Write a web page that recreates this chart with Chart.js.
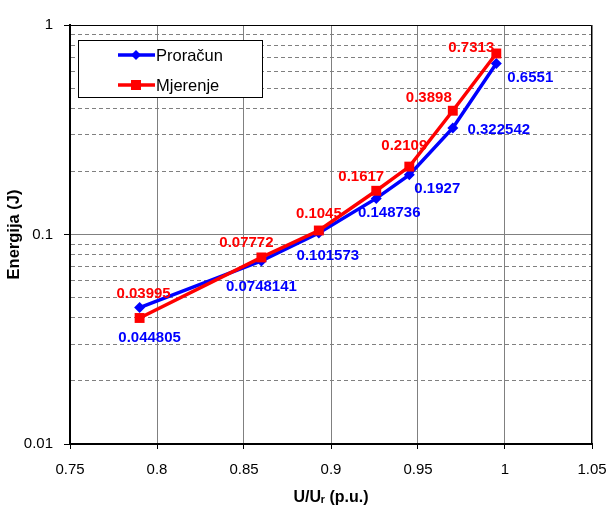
<!DOCTYPE html>
<html lang="hr">
<head>
<meta charset="UTF-8" />
<title>Energija</title>
<script src="https://cdn.jsdelivr.net/npm/chart.js"></script>
<style>
  body { margin: 0; background: #fff; }
  #wrap { width: 608px; height: 511px; position: relative; }
</style>
</head>
<body>
<div id="wrap"><canvas id="chart"></canvas></div>
<script>
// podaci
const napon = [0.79, 0.86, 0.893, 0.926, 0.945, 0.97, 0.995];
const proracun = [0.044805, 0.0748141, 0.101573, 0.148736, 0.1927, 0.322542, 0.6551];
const mjerenje = [0.03995, 0.07772, 0.1045, 0.1617, 0.2109, 0.3898, 0.7313];
const proracunTxt = ["0.044805", "0.0748141", "0.101573", "0.148736", "0.1927", "0.322542", "0.6551"];
const mjerenjeTxt = ["0.03995", "0.07772", "0.1045", "0.1617", "0.2109", "0.3898", "0.7313"];
const yMajor = [0.01, 0.1, 1];

// pomaci natpisa (px) od tocke
const pomakPro = [[10, 30], [0, 26], [9, 23], [13, 14], [28, 14], [46, 2], [34, 14]];
const pomakMj = [[4, -24], [-15, -15], [0, -17], [-15, -14], [-5, -21], [-24, -13], [-25, -6]];

const FONT = "'Liberation Sans', Arial, sans-serif";
const PLAVA = "#0000ff";
const CRVENA = "#ff0000";

function isMajor(v) {
  const l = Math.log10(v);
  return Math.abs(l - Math.round(l)) < 1e-9;
}

const natpisi = {
  id: "natpisi",
  afterDatasetsDraw(chart) {
    const ctx = chart.ctx;
    ctx.save();
    ctx.font = "bold 15px " + FONT;
    ctx.textAlign = "center";
    ctx.textBaseline = "middle";
    const sets = [
      { meta: chart.getDatasetMeta(0), txt: proracunTxt, pom: pomakPro, col: PLAVA },
      { meta: chart.getDatasetMeta(1), txt: mjerenjeTxt, pom: pomakMj, col: CRVENA },
    ];
    sets.forEach(s => {
      ctx.fillStyle = s.col;
      s.meta.data.forEach((pt, i) => {
        ctx.fillText(s.txt[i], pt.x + s.pom[i][0], pt.y + s.pom[i][1]);
      });
    });
    ctx.restore();
  },
  afterDraw(chart) {
    const ctx = chart.ctx;
    const a = chart.chartArea;
    ctx.save();
    // okvir
    ctx.strokeStyle = "#000";
    ctx.lineWidth = 1;
    ctx.beginPath();
    ctx.moveTo(a.left, a.top + 0.5);
    ctx.lineTo(a.right - 0.5, a.top + 0.5);
    ctx.lineTo(a.right - 0.5, a.bottom);
    ctx.stroke();

    // legenda
    const lx = a.left + 8, ly = a.top + 15, lw = 184, lh = 57;
    ctx.fillStyle = "#fff";
    ctx.fillRect(lx, ly, lw, lh);
    ctx.strokeRect(lx + 0.5, ly + 0.5, lw, lh);
    ctx.font = "16.5px " + FONT;
    ctx.textAlign = "left";
    ctx.textBaseline = "middle";
    const items = [
      { t: "Proračun", c: PLAVA, y: ly + 15, m: "romb" },
      { t: "Mjerenje", c: CRVENA, y: ly + 45, m: "kvad" },
    ];
    items.forEach(it => {
      ctx.strokeStyle = it.c;
      ctx.lineWidth = 3.5;
      ctx.beginPath();
      ctx.moveTo(lx + 40, it.y);
      ctx.lineTo(lx + 77, it.y);
      ctx.stroke();
      ctx.fillStyle = it.c;
      const cx = lx + 58;
      if (it.m === "romb") {
        ctx.beginPath();
        ctx.moveTo(cx, it.y - 5);
        ctx.lineTo(cx + 5, it.y);
        ctx.lineTo(cx, it.y + 5);
        ctx.lineTo(cx - 5, it.y);
        ctx.closePath();
        ctx.fill();
      } else {
        ctx.fillRect(cx - 5, it.y - 5, 10, 10);
      }
      ctx.fillStyle = "#000";
      ctx.fillText(it.t, lx + 78, it.y + 1);
    });
    ctx.restore();
  },
};

new Chart(document.getElementById("chart"), {
  type: "line",
  data: {
    datasets: [
      {
        label: "Proračun",
        data: napon.map((x, i) => ({ x: x, y: proracun[i] })),
        borderColor: PLAVA,
        backgroundColor: PLAVA,
        borderWidth: 3.5,
        pointStyle: "rectRot",
        pointRadius: 5.5,
        pointBorderWidth: 0,
        tension: 0,
        order: 1,
      },
      {
        label: "Mjerenje",
        data: napon.map((x, i) => ({ x: x, y: mjerenje[i] })),
        borderColor: CRVENA,
        backgroundColor: CRVENA,
        borderWidth: 3.5,
        pointStyle: "rect",
        pointRadius: 7,
        pointBorderWidth: 0,
        tension: 0,
        order: 0,
      },
    ],
  },
  options: {
    responsive: true,
    maintainAspectRatio: false,
    animation: false,
    layout: { padding: { left: 0, right: 16, top: 25, bottom: 0 } },
    plugins: {
      legend: { display: false },
      tooltip: { enabled: false },
    },
    scales: {
      x: {
        type: "linear",
        min: 0.75,
        max: 1.05,
        afterFit: s => {
          s.height = 67;
          s.paddingLeft = 0;
          s.paddingRight = 0;
        },
        ticks: {
          stepSize: 0.05,
          maxRotation: 0,
          color: "#000",
          font: { family: FONT, size: 15 },
          padding: 12,
          callback: v => String(Number(v.toFixed(2))),
        },
        grid: { color: "#808080", lineWidth: 1, tickColor: "#000", tickLength: 5 },
        border: { color: "#000", width: 2 },
        title: {
          display: true,
          text: "U/Uᵣ (p.u.)",
          color: "#000",
          font: { family: FONT, size: 16, weight: "bold" },
          padding: { top: 0, bottom: 4 },
        },
      },
      y: {
        type: "logarithmic",
        min: 0.01,
        max: 1,
        afterFit: s => {
          s.width = 70;
          s.paddingTop = 0;
          s.paddingBottom = 0;
        },
        afterBuildTicks: s => {
          const t = [];
          for (let e = -2; e < 0; e++) {
            for (let m = 1; m < 10; m++) {
              t.push({ value: Number((m * Math.pow(10, e)).toPrecision(3)) });
            }
          }
          t.push({ value: 1 });
          s.ticks = t;
        },
        ticks: {
          autoSkip: false,
          color: "#000",
          font: { family: FONT, size: 15 },
          padding: 11,
          callback: v => (yMajor.includes(v) ? String(v) : ""),
        },
        grid: {
          color: "#808080",
          lineWidth: 1,
          tickLength: 6,
          tickColor: c => (c.tick && isMajor(c.tick.value) ? "#000" : "rgba(0,0,0,0)"),
        },
        border: {
          color: "#000",
          width: 2,
          dash: c => (c.tick && !isMajor(c.tick.value) ? [4, 3] : []),
        },
        title: {
          display: true,
          text: "Energija (J)",
          color: "#000",
          font: { family: FONT, size: 16.5, weight: "bold" },
          padding: { top: 5, bottom: 0 },
        },
      },
    },
  },
  plugins: [natpisi],
});
</script>
</body>
</html>
